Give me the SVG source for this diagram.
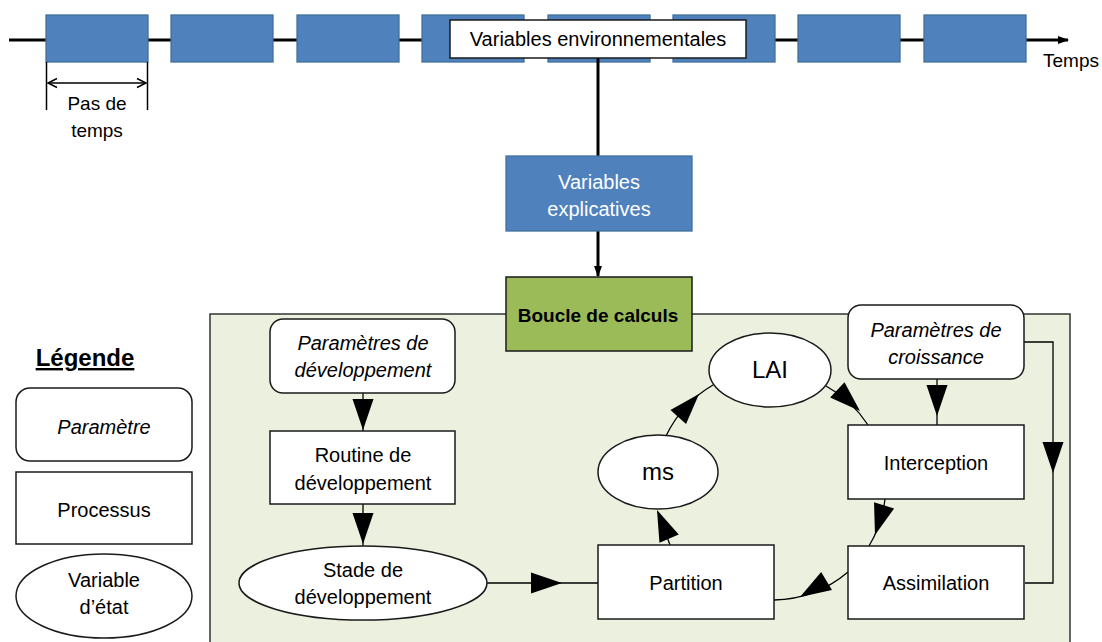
<svg xmlns="http://www.w3.org/2000/svg" xmlns:xlink="http://www.w3.org/1999/xlink" width="1102" height="642" viewBox="0 0 1102 642">
  <style>
    text { font-family: "Liberation Sans", Arial, sans-serif; font-size: 20px; fill: #000; text-anchor: middle; }
    .it { font-style: italic; }
    .blue { fill: #4F81BD; stroke: #41719C; stroke-width: 1.3; }
    .node { fill: #fff; stroke: #1a1a1a; stroke-width: 1.5; }
    .conn { fill: none; stroke: #000; stroke-width: 1.3; }
    .thick { fill: none; stroke: #000; stroke-width: 3; }
    .ah { fill: #000; }
  </style>
  <defs>
    <path id="ah" d="M0,0 L-31,-10.5 L-31,10.5 Z"/>
    <marker id="small" markerWidth="12" markerHeight="10" refX="10" refY="5" orient="auto" markerUnits="userSpaceOnUse">
      <path d="M0,1 L11,5 L0,9 Z" fill="#000"/>
    </marker>
    <marker id="open" markerWidth="12" markerHeight="12" refX="10" refY="6" orient="auto-start-reverse" markerUnits="userSpaceOnUse">
      <path d="M1,1.5 L10,6 L1,10.5" fill="none" stroke="#000" stroke-width="1.5"/>
    </marker>
  </defs>

  <!-- Timeline -->
  <g id="timeline">
    <line x1="9" y1="40" x2="1068" y2="40" class="thick" marker-end="url(#small)"/>
    <rect class="blue" x="46" y="15" width="102" height="47"/>
    <rect class="blue" x="171" y="15" width="102" height="47"/>
    <rect class="blue" x="297" y="15" width="102" height="47"/>
    <rect class="blue" x="422" y="15" width="102" height="47"/>
    <rect class="blue" x="548" y="15" width="102" height="47"/>
    <rect class="blue" x="673" y="15" width="102" height="47"/>
    <rect class="blue" x="798" y="15" width="102" height="47"/>
    <rect class="blue" x="924" y="15" width="102" height="47"/>
    <text x="1071" y="67" style="font-size:19px">Temps</text>
  </g>

  <g id="pas-de-temps">
    <line x1="46.5" y1="62" x2="46.5" y2="110" stroke="#000" stroke-width="1.5"/>
    <line x1="147.5" y1="62" x2="147.5" y2="110" stroke="#000" stroke-width="1.5"/>
    <line x1="48" y1="83" x2="146" y2="83" stroke="#000" stroke-width="1.5" marker-start="url(#open)" marker-end="url(#open)"/>
    <text x="97" y="110" style="font-size:19px">Pas de</text>
    <text x="97" y="137" style="font-size:19px">temps</text>
  </g>

  <!-- Container -->
  <g id="boucle-container">
    <rect x="210" y="314" width="860" height="340" fill="#EBF1DE" stroke="#333" stroke-width="1.5"/>
  </g>

  <!-- Connectors -->
  <g id="connectors">
    <line x1="598" y1="58" x2="598" y2="156" class="thick"/>
    <line x1="598" y1="231" x2="598" y2="276" class="thick" marker-end="url(#small)"/>

    <line x1="363" y1="393" x2="363" y2="431" class="conn"/>
    <use xlink:href="#ah" class="ah" transform="translate(363,430) rotate(90)"/>

    <line x1="363" y1="504" x2="363" y2="546" class="conn"/>
    <use xlink:href="#ah" class="ah" transform="translate(363,544) rotate(90)"/>

    <line x1="487" y1="583" x2="598" y2="583" class="conn"/>
    <use xlink:href="#ah" class="ah" transform="translate(562,583)"/>

    <line x1="670" y1="545" x2="658" y2="512" class="conn"/>
    <use xlink:href="#ah" class="ah" transform="translate(657,510) rotate(-113)"/>

    <path d="M666,436 A118,118 0 0,1 713,385" class="conn"/>
    <use xlink:href="#ah" class="ah" transform="translate(699,394) rotate(-48)"/>

    <path d="M826,386 A118,118 0 0,1 868,425" class="conn"/>
    <use xlink:href="#ah" class="ah" transform="translate(860,411) rotate(43)"/>

    <line x1="937" y1="379" x2="937" y2="425" class="conn"/>
    <use xlink:href="#ah" class="ah" transform="translate(937,416) rotate(90)"/>

    <path d="M885,499 A118,118 0 0,1 869,546" class="conn"/>
    <use xlink:href="#ah" class="ah" transform="translate(875,535) rotate(107)"/>

    <path d="M848,572 A118,118 0 0,1 774,600" class="conn"/>
    <use xlink:href="#ah" class="ah" transform="translate(800,597) rotate(149)"/>

    <polyline points="1024,342 1053,342 1053,583 1025,583" class="conn"/>
    <use xlink:href="#ah" class="ah" transform="translate(1053,473) rotate(90)"/>
  </g>

  <!-- Nodes -->
  <g id="var-env">
    <rect x="450" y="20" width="296" height="38" fill="#fff" stroke="#1a1a1a" stroke-width="1.5"/>
    <text x="598" y="46">Variables environnementales</text>
  </g>

  <g id="var-expl">
    <rect x="506" y="156" width="186" height="75" class="blue"/>
    <text x="599" y="189" style="fill:#fff">Variables</text>
    <text x="599" y="216" style="fill:#fff">explicatives</text>
  </g>

  <g id="boucle">
    <rect x="506" y="277" width="186" height="74" fill="#9BBB59" stroke="#1a1a1a" stroke-width="1.5"/>
    <text x="598" y="322" style="font-weight:bold;font-size:19px">Boucle de calculs</text>
  </g>

  <g id="param-dev">
    <rect x="270" y="319" width="185" height="74" rx="13" class="node"/>
    <text x="363" y="350" class="it">Paramètres de</text>
    <text x="363" y="377" class="it">développement</text>
  </g>

  <g id="routine">
    <rect x="270" y="431" width="185" height="73" class="node"/>
    <text x="363" y="462">Routine de</text>
    <text x="363" y="490">développement</text>
  </g>

  <g id="stade">
    <ellipse cx="363" cy="583" rx="124" ry="37" class="node"/>
    <text x="363" y="577">Stade de</text>
    <text x="363" y="604">développement</text>
  </g>

  <g id="partition">
    <rect x="598" y="545" width="176" height="74" class="node"/>
    <text x="686" y="590">Partition</text>
  </g>

  <g id="ms">
    <ellipse cx="658" cy="472" rx="60" ry="37" class="node"/>
    <text x="658" y="480" style="font-size:24px">ms</text>
  </g>

  <g id="lai">
    <ellipse cx="770" cy="370" rx="61" ry="37" class="node"/>
    <text x="770" y="378" style="font-size:24px">LAI</text>
  </g>

  <g id="param-croiss">
    <rect x="848" y="305" width="176" height="74" rx="13" class="node"/>
    <text x="936" y="337" class="it">Paramètres de</text>
    <text x="936" y="364" class="it">croissance</text>
  </g>

  <g id="interception">
    <rect x="848" y="425" width="176" height="74" class="node"/>
    <text x="936" y="470">Interception</text>
  </g>

  <g id="assimilation">
    <rect x="848" y="546" width="176" height="73" class="node"/>
    <text x="936" y="590">Assimilation</text>
  </g>

  <!-- Legend -->
  <g id="legende">
    <text x="85" y="366" style="font-weight:bold;font-size:24px;text-decoration:underline">Légende</text>
  </g>
  <g id="legend-parametre">
    <rect x="16" y="388" width="176" height="73" rx="14" class="node"/>
    <text x="104" y="434" class="it">Paramètre</text>
  </g>
  <g id="legend-processus">
    <rect x="16" y="472" width="176" height="72" class="node"/>
    <text x="104" y="517">Processus</text>
  </g>
  <g id="legend-variable">
    <ellipse cx="104" cy="596" rx="88" ry="42" class="node"/>
    <text x="104" y="587">Variable</text>
    <text x="104" y="614">d’état</text>
  </g>
</svg>
